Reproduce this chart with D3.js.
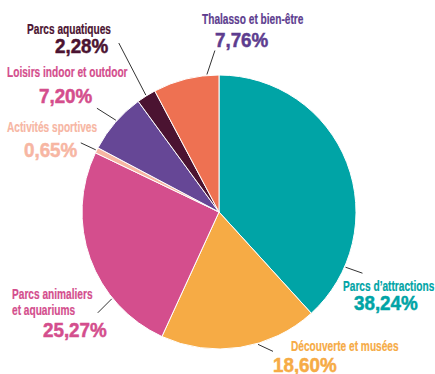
<!DOCTYPE html>
<html>
<head>
<meta charset="utf-8">
<script src="https://cdn.jsdelivr.net/npm/d3@7"></script>
<style>
  body { margin: 0; background: #fff; }
  text { font-family: "Liberation Sans", Arial, sans-serif; font-weight: bold; }
</style>
</head>
<body>
<svg id="chart" width="435" height="374"></svg>
<script>
// data, clockwise from 12 o'clock
const categories = ['Parcs d\u2019attractions', 'Découverte et musées', 'Parcs animaliers et aquariums',
    'Activités sportives', 'Loisirs indoor et outdoor', 'Parcs aquatiques', 'Thalasso et bien-être'];
const shares = [38.24, 18.60, 25.27, 0.65, 7.20, 2.28, 7.76];
const sliceColors = ['#00a4a6', '#f6ab45', '#d44e8d', '#f7b6a3', '#664796', '#4b1331', '#ee7152'];
const labelColors = ['#00a4a6', '#f6ab45', '#d44e8d', '#f7b6a3', '#d44e8d', '#4b1331', '#5d3d8f'];
const nameLines = [['Parcs d\u2019attractions'], ['Découverte et musées'], ['Parcs animaliers', 'et aquariums'],
    ['Activités sportives'], ['Loisirs indoor et outdoor'], ['Parcs aquatiques'], ['Thalasso et bien-être']];

// label placement (t = where the leader leaves the slice, 0..1)
const layout = [
    {t: 0.825, dx: 17, dy: 6, nx: 343, ny: 291, px: 354, py: 310},
    {t: 0.387, dx: 15, dy: 7, nx: 291, ny: 351, px: 273, py: 372},
    {t: 0.29, dx: -14, dy: 14, nx: 12, ny: 299, px: 43, py: 337},
    {t: 0.5, dx: -15, dy: -7, nx: 7, ny: 132, px: 24, py: 157},
    {t: 0.53, dx: -19, dy: -12, nx: 7, ny: 77, px: 39, py: 103},
    {t: 0.5, dx: -27, dy: -52, nx: 27, ny: 34, px: 55, py: 53},
    {t: 0.82, dx: 8, dy: -24, nx: 202, ny: 24, px: 215, py: 47}
];

const cx = 219, cy = 212, radius = 137;
const nameSize = 14.5, pctSize = 20;
const nameSqueeze = 0.70, pctSqueeze = 0.94; // condensed face look
const fmt = v => d3.format('.2f')(v).replace('.', ',') + '%';

const svg = d3.select('#chart');
const g = svg.append('g').attr('transform', `translate(${cx},${cy})`);

const pie = d3.pie().sort(null).value(d => d);
const arcs = pie(shares);
const arc = d3.arc().innerRadius(0).outerRadius(radius);

g.selectAll('path')
    .data(arcs)
    .join('path')
    .attr('d', arc)
    .attr('fill', (d, i) => sliceColors[i])
    .attr('stroke', '#fff')
    .attr('stroke-width', 1);

// leader lines
g.selectAll('line')
    .data(arcs)
    .join('line')
    .each(function(d, i) {
        const a = d.startAngle + (d.endAngle - d.startAngle) * layout[i].t;
        const x1 = Math.sin(a) * (radius + 1), y1 = -Math.cos(a) * (radius + 1);
        d3.select(this)
            .attr('x1', x1).attr('y1', y1)
            .attr('x2', x1 + layout[i].dx).attr('y2', y1 + layout[i].dy);
    })
    .attr('stroke', '#333')
    .attr('stroke-width', 1);

// labels
const labels = svg.selectAll('g.label')
    .data(categories)
    .join('g')
    .attr('class', 'label')
    .attr('fill', (d, i) => labelColors[i])
    .attr('stroke', (d, i) => labelColors[i]);

// squeeze horizontally to mimic a condensed face
function addText(sel, x, y, size, k, str, sw) {
    sel.append('text')
        .attr('transform', `translate(${x},${y}) scale(${k},1)`)
        .attr('font-size', size)
        .attr('stroke-width', sw)
        .text(str);
}

labels.each(function(d, i) {
    const lab = d3.select(this);
    nameLines[i].forEach((line, j) => {
        addText(lab, layout[i].nx, layout[i].ny + j * 16, nameSize, nameSqueeze, line, 0.2);
    });
    addText(lab, layout[i].px, layout[i].py, pctSize, pctSqueeze, fmt(shares[i]), 0.5);
});
</script>
</body>
</html>
